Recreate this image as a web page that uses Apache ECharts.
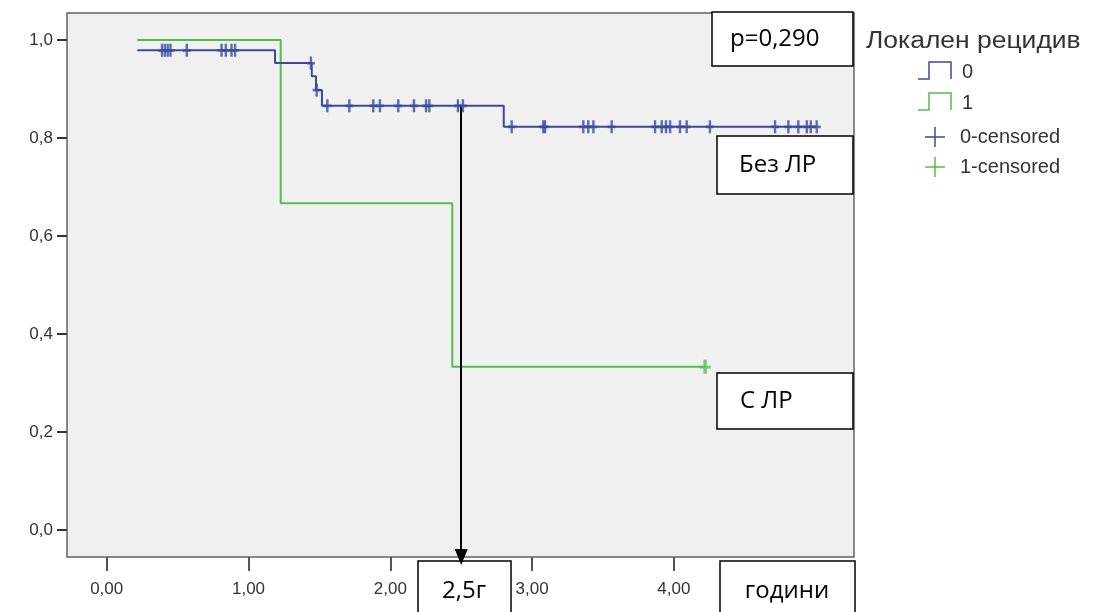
<!DOCTYPE html>
<html>
<head>
<meta charset="utf-8">
<script src="https://cdn.jsdelivr.net/npm/echarts@6/dist/echarts.min.js"></script>
<style>
  html, body { margin: 0; padding: 0; background: #ffffff; }
  #chart { width: 1100px; height: 612px; }
</style>
</head>
<body>
<div id="chart"></div>
<script>
// Axis ticks
const xTicks = [0, 1, 2, 3, 4];
const yTicks = [0, 0.2, 0.4, 0.6, 0.8, 1.0];

// Kaplan–Meier survival, group 0 (no local recurrence): [years, survival from that time on]
const group0Steps = [
  [0.216, 0.979], [1.187, 0.953], [1.446, 0.926], [1.476, 0.898],
  [1.518, 0.866], [2.800, 0.823], [5.007, 0.823]
];
// Censored observations, group 0: [years, survival]
const group0Censored = [
  [0.39, 0.979], [0.41, 0.979], [0.43, 0.979], [0.45, 0.979], [0.565, 0.979],
  [0.81, 0.979], [0.84, 0.979], [0.88, 0.979], [0.905, 0.979],
  [1.44, 0.953], [1.481, 0.898],
  [1.556, 0.866], [1.711, 0.866], [1.880, 0.866], [1.927, 0.866], [2.056, 0.866],
  [2.167, 0.866], [2.252, 0.866], [2.275, 0.866], [2.477, 0.866], [2.512, 0.866],
  [2.856, 0.823], [3.079, 0.823], [3.091, 0.823], [3.361, 0.823], [3.396, 0.823],
  [3.432, 0.823], [3.561, 0.823], [3.867, 0.823], [3.914, 0.823], [3.944, 0.823],
  [3.973, 0.823], [4.043, 0.823], [4.090, 0.823], [4.254, 0.823], [4.713, 0.823],
  [4.807, 0.823], [4.877, 0.823], [4.937, 0.823], [4.965, 0.823], [5.007, 0.823]
];

// Group 1 (local recurrence)
const group1Steps = [[0.216, 1.0], [1.227, 0.667], [2.437, 0.333], [4.22, 0.333]];
const group1Censored = [[4.22, 0.333]];

// Reference arrow: survival of group 0 at 2.5 years
const markYears = 2.5;
const markSurvival = 0.866;

const legendTitle = 'Локален рецидив';
const legendLabels = ['0', '1', '0-censored', '1-censored'];

const BLUE = '#3a4a9e';
const GREEN = '#4fbf4f';
const X_MIN = -0.28, X_MAX = 5.27;
const Y_MIN = -0.055, Y_MAX = 1.055;

const comma = (v, d) => v.toFixed(d).replace('.', ',');
// Filled plus sign used for censored observations
const PLUS = 'path://M3.5,0 L6.5,0 L6.5,5 L10,5 L10,7.4 L6.5,7.4 L6.5,12 L3.5,12 L3.5,7.4 L0,7.4 L0,5 L3.5,5 Z';
const ANNOT_FONT = '"Open Sans", "Noto Sans", sans-serif';
const AXIS_FONT = '"Liberation Sans", Arial, sans-serif';

function box(x, y, w, h, text, textX, align) {
  return {
    type: 'group', z: 100,
    children: [
      { type: 'rect', shape: { x: x, y: y, width: w, height: h },
        style: { fill: '#ffffff', stroke: '#000000', lineWidth: 1.5 } },
      { type: 'text', x: textX, y: y + h / 2,
        style: { text: text, fill: '#000000', font: '24px ' + ANNOT_FONT,
                 textAlign: align, textVerticalAlign: 'middle' } }
    ]
  };
}

function stepIcon(x, y, color) {
  return { type: 'polyline', z: 100,
    shape: { points: [[x, y + 17], [x + 11, y + 17], [x + 11, y], [x + 33, y], [x + 33, y + 17]] },
    style: { stroke: color, lineWidth: 1.5, fill: null } };
}
function plusIcon(cx, cy, color) {
  return { type: 'group', z: 100, children: [
    { type: 'line', shape: { x1: cx - 10, y1: cy, x2: cx + 10, y2: cy }, style: { stroke: color, lineWidth: 1.5 } },
    { type: 'line', shape: { x1: cx, y1: cy - 10, x2: cx, y2: cy + 10 }, style: { stroke: color, lineWidth: 1.5 } }
  ] };
}
function legendText(x, y, text) {
  return { type: 'text', z: 100, x: x, y: y,
    style: { text: text, fill: '#333333', font: '20px ' + AXIS_FONT, textVerticalAlign: 'middle' } };
}

const chart = echarts.init(document.getElementById('chart'), null, { renderer: 'canvas' });

chart.setOption({
  animation: false,
  backgroundColor: '#ffffff',
  grid: {
    left: 67, right: 246, top: 13, bottom: 55,
    show: true, backgroundColor: '#f0f0f0', borderColor: '#626262', borderWidth: 1.5
  },
  xAxis: {
    type: 'value', min: X_MIN, max: X_MAX,
    splitLine: { show: false },
    axisLine: { show: false, onZero: false },
    axisTick: { show: true, length: 14, customValues: xTicks, lineStyle: { color: '#555', width: 2 } },
    axisLabel: { customValues: xTicks, margin: 24, color: '#333', fontSize: 17, fontFamily: AXIS_FONT,
                 formatter: v => comma(v, 2) }
  },
  yAxis: {
    type: 'value', min: Y_MIN, max: Y_MAX,
    splitLine: { show: false },
    axisLine: { show: false, onZero: false },
    axisTick: { show: true, length: 10, customValues: yTicks, lineStyle: { color: '#333', width: 2 } },
    axisLabel: { customValues: yTicks, margin: 14, color: '#333', fontSize: 17, fontFamily: AXIS_FONT,
                 formatter: v => comma(v, 1) }
  },
  series: [
    {
      name: '1', type: 'line', step: 'end', data: group1Steps,
      showSymbol: false, lineStyle: { color: GREEN, width: 2 }, z: 2
    },
    {
      name: '0', type: 'line', step: 'end', data: group0Steps,
      showSymbol: false, lineStyle: { color: BLUE, width: 2 }, z: 3,
      markLine: {
        silent: true, symbol: ['none', 'triangle'], symbolSize: [13, 16],
        label: { show: false },
        lineStyle: { color: '#000000', width: 2, type: 'solid' },
        data: [[{ coord: [markYears, markSurvival] }, { coord: [markYears, Y_MIN] }]]
      }
    },
    {
      name: '1-censored', type: 'scatter', data: group1Censored,
      symbol: PLUS, symbolSize: [11, 14], itemStyle: { color: GREEN }, z: 4
    },
    {
      name: '0-censored', type: 'scatter', data: group0Censored,
      symbol: PLUS, symbolSize: [8, 13], itemStyle: { color: BLUE }, z: 5
    }
  ],
  graphic: [
    { type: 'text', z: 100, x: 866, y: 42, scaleX: 1.15,
      style: { text: legendTitle, fill: '#333333', font: '23px ' + AXIS_FONT, textVerticalAlign: 'middle' } },
    stepIcon(918, 62, BLUE), legendText(962, 72, legendLabels[0]),
    stepIcon(918, 93, GREEN), legendText(962, 103, legendLabels[1]),
    plusIcon(935, 137, BLUE), legendText(960, 137, legendLabels[2]),
    plusIcon(935, 167, GREEN), legendText(960, 167, legendLabels[3]),
    box(712, 12, 141, 54, 'p=0,290', 730, 'left'),
    box(717, 136, 136, 58, 'Без ЛР', 739, 'left'),
    box(717, 373, 136, 56, 'С ЛР', 740, 'left'),
    box(418, 561, 93, 60, '2,5г', 464, 'center'),
    box(720, 561, 135, 60, 'години', 787, 'center')
  ]
});
</script>
</body>
</html>
